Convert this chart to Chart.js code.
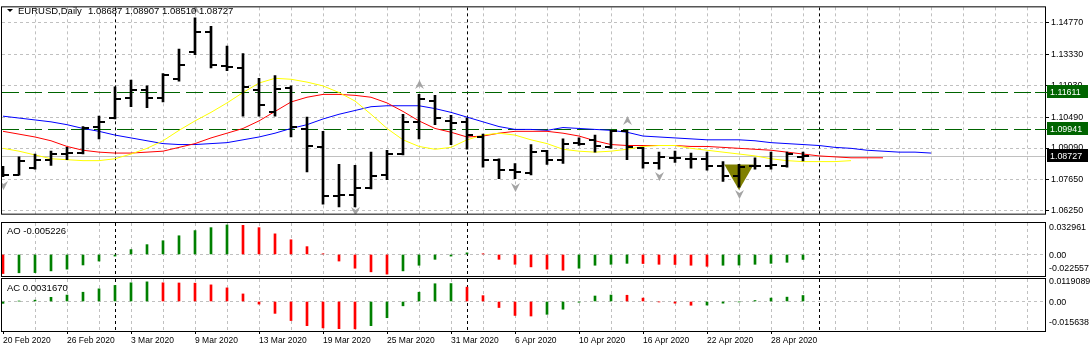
<!DOCTYPE html>
<html>
<head>
<meta charset="utf-8">
<script src="https://cdn.jsdelivr.net/npm/chart.js@4.4.1/dist/chart.umd.min.js"></script>
<style>
  body { margin: 0; background: #fff; width: 1091px; height: 352px; overflow: hidden; position: relative; }
  canvas { position: absolute; left: 0; }
</style>
</head>
<body>
<canvas id="price" width="1091" height="221" style="top:0"></canvas>
<canvas id="ao" width="1091" height="57" style="top:221px"></canvas>
<canvas id="ac" width="1091" height="75" style="top:277px"></canvas>
<script>
// EURUSD daily bars, 20 Feb - 30 Apr 2020
const dates = ['20 Feb 2020','21 Feb 2020','24 Feb 2020','25 Feb 2020','26 Feb 2020','27 Feb 2020','28 Feb 2020',
  '2 Mar 2020','3 Mar 2020','4 Mar 2020','5 Mar 2020','6 Mar 2020','9 Mar 2020','10 Mar 2020','11 Mar 2020','12 Mar 2020',
  '13 Mar 2020','16 Mar 2020','17 Mar 2020','18 Mar 2020','19 Mar 2020','20 Mar 2020','23 Mar 2020','24 Mar 2020',
  '25 Mar 2020','26 Mar 2020','27 Mar 2020','30 Mar 2020','31 Mar 2020',
  '1 Apr 2020','2 Apr 2020','3 Apr 2020','6 Apr 2020','7 Apr 2020','8 Apr 2020','9 Apr 2020','10 Apr 2020','13 Apr 2020',
  '14 Apr 2020','15 Apr 2020','16 Apr 2020','17 Apr 2020','20 Apr 2020','21 Apr 2020','22 Apr 2020','23 Apr 2020',
  '24 Apr 2020','27 Apr 2020','28 Apr 2020','29 Apr 2020','30 Apr 2020'];

const open = [1.08049,1.07878,1.08178,1.08563,1.08820,1.08863,1.10061,1.10447,1.11346,1.11731,
  1.11346,1.12202,1.13443,1.14342,1.12801,1.12716,1.11731,1.10704,1.11817,1.09933,
  1.09120,1.06936,1.06979,1.07279,1.07878,1.08820,1.10275,1.11217,1.10318,1.10275,
  1.09590,1.08563,1.08092,1.07964,1.08948,1.08563,1.09334,1.09462,1.09120,1.09847,
  1.09077,1.08392,1.08649,1.08606,1.08606,1.08263,1.07835,1.08263,1.08263,1.08263,1.08687];
const high = [1.08263,1.08691,1.08820,1.08948,1.09120,1.10061,1.10532,1.11859,1.12159,1.11902,
  1.12459,1.13572,1.14984,1.14599,1.13700,1.13358,1.12245,1.12373,1.11902,1.10489,
  1.09847,1.08349,1.08306,1.08905,1.08991,1.10618,1.11517,1.11474,1.10575,1.10447,
  1.09719,1.08606,1.08392,1.09248,1.08991,1.09505,1.09548,1.09676,1.09890,1.09890,
  1.09120,1.08905,1.08948,1.08863,1.08905,1.08480,1.08349,1.08649,1.08905,1.08905,1.08907];
const low = [1.07792,1.07860,1.08135,1.08306,1.08563,1.08820,1.09505,1.10404,1.10960,1.10918,
  1.11174,1.12116,1.13315,1.12716,1.12587,1.10532,1.10532,1.10532,1.09590,1.08006,
  1.06551,1.06423,1.06423,1.07236,1.07664,1.08777,1.09505,1.10147,1.09248,1.09034,
  1.08221,1.07707,1.07707,1.07878,1.08349,1.08392,1.09205,1.08905,1.09077,1.08563,
  1.08178,1.08135,1.08435,1.08178,1.08092,1.07578,1.07322,1.08135,1.08135,1.08221,1.08510];
const close = [1.07878,1.08520,1.08563,1.08820,1.08863,1.10019,1.10275,1.11303,1.11731,1.11346,
  1.12416,1.12844,1.14342,1.12844,1.12758,1.11859,1.11046,1.11774,1.10061,1.09205,
  1.06936,1.06979,1.07279,1.07835,1.08820,1.10275,1.11303,1.10447,1.10233,1.09676,
  1.08563,1.08092,1.08006,1.08905,1.08563,1.09291,1.09291,1.09205,1.09847,1.09120,
  1.08435,1.08691,1.08649,1.08606,1.08263,1.07835,1.08221,1.08263,1.08306,1.08820,1.08727];

// Alligator lines (shifted forward past the last bar)
const jaw = [1.10532,1.10447,1.10361,1.10275,1.10147,1.09976,1.09847,1.09676,1.09548,1.09419,
  1.09291,1.09248,1.09248,1.09291,1.09334,1.09462,1.09590,1.09762,1.09976,1.10147,
  1.10404,1.10618,1.10789,1.10960,1.11003,1.11003,1.11003,1.10875,1.10704,1.10489,
  1.10275,1.10061,1.09933,1.09933,1.09890,1.10018,1.09976,1.09933,1.09890,1.09805,
  1.09633,1.09590,1.09548,1.09505,1.09462,1.09462,1.09462,1.09419,1.09334,1.09291,
  1.09248,1.09205,1.09120,1.09077,1.08991,1.08948,1.08905,1.08905,1.08863];
const teeth = [1.09847,1.09719,1.09590,1.09419,1.09162,1.08991,1.08905,1.08863,1.08863,1.08905,
  1.08948,1.09120,1.09291,1.09548,1.09762,1.09976,1.10318,1.10746,1.11174,1.11388,
  1.11517,1.11517,1.11474,1.11388,1.11132,1.10746,1.10318,1.09976,1.09805,1.09590,
  1.09633,1.09762,1.09847,1.09847,1.09847,1.09762,1.09633,1.09419,1.09248,1.09205,
  1.09205,1.09205,1.09205,1.09162,1.09162,1.09120,1.09077,1.09034,1.08991,1.08905,
  1.08820,1.08734,1.08691,1.08649,1.08649,1.08649];
const lips = [1.09077,1.08948,1.08777,1.08606,1.08563,1.08520,1.08520,1.08606,1.08820,1.09077,
  1.09419,1.09890,1.10318,1.10704,1.11132,1.11602,1.12031,1.12245,1.12202,1.12073,
  1.11902,1.11602,1.11217,1.10618,1.09976,1.09462,1.09162,1.09034,1.09120,1.09462,
  1.09676,1.09762,1.09676,1.09462,1.09291,1.09034,1.08948,1.08905,1.08948,1.09034,
  1.09162,1.09205,1.09205,1.09077,1.08991,1.08905,1.08820,1.08734,1.08606,1.08520,
  1.08477,1.08477,1.08477,1.08520];

const fractalUp = [{x: 12, y: 1.15370}, {x: 26, y: 1.11945}, {x: 39, y: 1.10318}];
const fractalDown = [{x: 0, y: 1.07407}, {x: 22, y: 1.06208}, {x: 32, y: 1.07322}, {x: 41, y: 1.07792}, {x: 46, y: 1.06979}];
const signal = [{x: 46, y: 1.07964}];

const levels = [1.11611, 1.09941];
const priceTicks = [1.14770, 1.13330, 1.11930, 1.10490, 1.09090, 1.07650, 1.06250];
const priceMin = 1.06122, priceMax = 1.15455;
const separators = [7, 29, 51];   // month starts

// Awesome / Accelerator oscillators
const ao = [-0.0200,-0.0192,-0.0190,-0.0172,-0.0154,-0.0110,-0.0069,-0.0017,0.0051,0.0103,
  0.0144,0.0196,0.0250,0.0281,0.0309,0.0305,0.0281,0.0216,0.0154,0.0082,
  0.0007,-0.0069,-0.0144,-0.0182,-0.0206,-0.0172,-0.0113,-0.0051,-0.0017,0.0017,
  0.0007,-0.0051,-0.0103,-0.0130,-0.0154,-0.0165,-0.0144,-0.0113,-0.0103,-0.0093,
  -0.0095,-0.0103,-0.0105,-0.0113,-0.0124,-0.0113,-0.0111,-0.0103,-0.0093,-0.0082,-0.005226];
const aoBefore = -0.0195;
const aoMin = -0.022557, aoMax = 0.032961;
const ac = [-0.0010,0.0002,0.0007,0.0022,0.0034,0.0049,0.0067,0.0085,0.0099,0.0104,
  0.0099,0.0098,0.0097,0.0088,0.0072,0.0040,-0.0014,-0.0063,-0.0101,-0.0128,
  -0.0140,-0.0144,-0.0145,-0.0128,-0.0086,-0.0023,0.0049,0.0094,0.0095,0.0076,
  0.0031,-0.0032,-0.0074,-0.0077,-0.0068,-0.0041,-0.0004,0.0029,0.0034,0.0033,
  0.0018,-0.0002,-0.0009,-0.0020,-0.0019,-0.0009,-0.0002,0.0005,0.0018,0.0023,0.003167];
const acBefore = -0.0012;
const acMin = -0.015638, acMax = 0.0119089;

const N = dates.length;
const xMin = -0.0625, xMax = 65.125;
const gridIdx = [];
for (let i = 0; i <= 64; i += 2) gridIdx.push(i);
const FONT = 'Liberation Sans';
const GRID = '#C0C0C0';

Chart.defaults.font.family = FONT;

function pts(arr) { return arr.map((v, i) => ({x: i, y: v})); }

// little open/close ticks used as point images
function tickImage(side) {
  const c = document.createElement('canvas');
  c.width = 12; c.height = 2;
  const g = c.getContext('2d');
  g.fillStyle = '#000';
  g.fillRect(side < 0 ? 0 : 6, 0, 6, 2);
  return c;
}
function arrowImage(up) {
  const c = document.createElement('canvas');
  c.width = 9; c.height = 9;
  const g = c.getContext('2d');
  g.fillStyle = '#a4a4a4';
  g.beginPath();
  if (up) { g.moveTo(4.5, 0); g.lineTo(9, 9); g.lineTo(4.5, 6); g.lineTo(0, 9); }
  else { g.moveTo(4.5, 9); g.lineTo(9, 0); g.lineTo(4.5, 3); g.lineTo(0, 0); }
  g.closePath();
  g.fill();
  return c;
}

function frame(before, after) {
  return {
    id: 'frame',
    beforeDatasetsDraw(chart) {
      const {ctx, chartArea: a, scales: {x}} = chart;
      ctx.save();
      ctx.beginPath();
      ctx.rect(a.left, a.top, a.right - a.left, a.bottom - a.top);
      ctx.clip();
      ctx.lineWidth = 1;
      ctx.strokeStyle = '#000';
      ctx.setLineDash([3, 3]);
      separators.forEach(i => {
        const px = Math.round(x.getPixelForValue(i)) + 0.5;
        ctx.beginPath(); ctx.moveTo(px, a.top); ctx.lineTo(px, a.bottom); ctx.stroke();
      });
      if (before) before(chart);
      ctx.restore();
      ctx.imageSmoothingEnabled = false;
    },
    afterDraw(chart) {
      const {ctx, chartArea: a} = chart;
      ctx.save();
      ctx.setLineDash([]);
      ctx.strokeStyle = '#000';
      ctx.lineWidth = 1;
      ctx.strokeRect(a.left - 0.5, a.top - 0.5, a.right - a.left + 1, a.bottom - a.top + 1);
      if (after) after(chart);
      ctx.restore();
    }
  };
}

function xAxis(height, labelled) {
  return {
    type: 'linear', min: xMin, max: xMax, offset: false, position: 'bottom',
    afterBuildTicks: s => { s.ticks = gridIdx.map(v => ({value: v})); },
    afterFit: s => { s.height = height; },
    ticks: labelled ? {
      display: true, autoSkip: false, maxRotation: 0, minRotation: 0, align: 'start', padding: 2,
      color: '#000', font: {size: 8.5},
      callback: v => (v % 4 === 0 && v < N) ? dates[v] : ''
    } : {display: false},
    grid: {
      offset: false, lineWidth: 1,
      color: c => c.tick && c.tick.value === 0 ? 'rgba(0,0,0,0)' : GRID,
      drawTicks: labelled, tickLength: 3,
      tickColor: c => c.tick && c.tick.value % 4 === 0 && c.tick.value < N ? '#000' : 'rgba(0,0,0,0)'
    },
    border: {display: false, dash: [3, 3]}
  };
}

function oscAxis(min, max) {
  return {
    position: 'right', min: min, max: max,
    afterBuildTicks: s => { s.ticks = [{value: 0}]; },
    afterFit: s => { s.width = 46; },
    ticks: {display: false},
    grid: {color: GRID, drawTicks: false},
    border: {display: false, dash: [3, 3]}
  };
}

function histColors(arr, before) {
  return arr.map((v, i) => v > (i === 0 ? before : arr[i - 1]) ? '#008000' : '#FF0000');
}

const common = {
  responsive: false,
  animation: false,
  events: [],
  plugins: {legend: {display: false}, tooltip: {enabled: false}}
};

// ---- price pane ----
const lastClose = close[N - 1];
new Chart(document.getElementById('price'), {
  type: 'bar',
  data: {
    datasets: [
      {type: 'bar', data: dates.map((d, i) => ({x: i, y: [low[i], high[i]]})),
        backgroundColor: '#000', barThickness: 2, order: 0},
      {type: 'scatter', data: pts(open), pointStyle: tickImage(-1), pointRadius: 3, order: 0},
      {type: 'scatter', data: pts(close), pointStyle: tickImage(1), pointRadius: 3, order: 0},
      {type: 'line', data: pts(jaw), borderColor: '#0000FF', borderWidth: 1, pointRadius: 0, tension: 0, order: 3},
      {type: 'line', data: pts(teeth), borderColor: '#FF0000', borderWidth: 1, pointRadius: 0, tension: 0, order: 2},
      {type: 'line', data: pts(lips), borderColor: '#FFFF00', borderWidth: 1, pointRadius: 0, tension: 0, order: 1},
      {type: 'scatter', data: fractalUp, pointStyle: arrowImage(true), pointRadius: 3, order: 4},
      {type: 'scatter', data: fractalDown, pointStyle: arrowImage(false), pointRadius: 3, order: 4},
      {type: 'scatter', data: signal, pointStyle: 'triangle', rotation: 180, pointRadius: 17,
        backgroundColor: '#808000', borderWidth: 0, order: 9}
    ]
  },
  options: {
    ...common,
    layout: {autoPadding: false, padding: {left: 2, top: 2, right: 0, bottom: 1}},
    scales: {
      x: xAxis(0, false),
      y: {
        position: 'right', min: priceMin, max: priceMax,
        afterBuildTicks: s => { s.ticks = priceTicks.map(v => ({value: v})); },
        afterFit: s => { s.width = 46; },
        ticks: {color: '#000', font: {size: 8.9}, padding: 2, callback: v => v.toFixed(5)},
        grid: {color: GRID, tickColor: '#000', tickLength: 4},
        border: {display: false, dash: [3, 3]}
      }
    }
  },
  plugins: [frame(
    chart => {
      const {ctx, chartArea: a, scales: {y}} = chart;
      ctx.setLineDash([]);
      ctx.strokeStyle = GRID;
      let py = Math.round(y.getPixelForValue(lastClose)) + 0.5;
      ctx.beginPath(); ctx.moveTo(a.left, py); ctx.lineTo(a.right, py); ctx.stroke();
      ctx.setLineDash([17, 6]);
      ctx.strokeStyle = '#006400';
      levels.forEach(v => {
        py = Math.round(y.getPixelForValue(v)) + 0.5;
        ctx.beginPath(); ctx.moveTo(a.left, py); ctx.lineTo(a.right, py); ctx.stroke();
      });
    },
    chart => {
      const {ctx, scales: {y}} = chart;
      // header
      ctx.fillStyle = '#000';
      ctx.beginPath(); ctx.moveTo(7, 9); ctx.lineTo(13, 9); ctx.lineTo(10, 12); ctx.closePath(); ctx.fill();
      ctx.font = '9.5px "' + FONT + '"';
      ctx.textBaseline = 'middle';
      ctx.textAlign = 'left';
      ctx.fillText('EURUSD,Daily', 18, 11);
      ctx.fillText([open[N - 1], high[N - 1], low[N - 1], close[N - 1]].map(v => v.toFixed(5)).join(' '), 88, 11);
      // price tags on the right scale
      ctx.font = '8.9px "' + FONT + '"';
      const tag = (v, bg, lead) => {
        const py = Math.round(y.getPixelForValue(v));
        if (lead) {
          ctx.strokeStyle = bg; ctx.setLineDash([]);
          ctx.beginPath(); ctx.moveTo(1035, py + 0.5); ctx.lineTo(1047, py + 0.5); ctx.stroke();
        }
        ctx.fillStyle = bg;
        ctx.fillRect(1047, py - 7, 41, 13);
        ctx.fillStyle = '#fff';
        ctx.fillText(v.toFixed(5), 1050, py + 0.5);
      };
      levels.forEach(v => tag(v, '#006400', true));
      tag(lastClose, '#000', false);
    }
  )]
});

// ---- oscillator panes ----
function oscChart(id, values, before, min, max, padBottom, xHeight, title, labelPos) {
  new Chart(document.getElementById(id), {
    type: 'bar',
    data: {
      datasets: [{data: pts(values), backgroundColor: histColors(values, before), barThickness: 2}]
    },
    options: {
      ...common,
      layout: {autoPadding: false, padding: {left: 2, top: 2, right: 0, bottom: padBottom}},
      scales: {x: xAxis(xHeight, xHeight > 0), y: oscAxis(min, max)}
    },
    plugins: [frame(null, chart => {
      const {ctx, chartArea: a, scales: {y}} = chart;
      ctx.fillStyle = '#000';
      ctx.textBaseline = 'middle';
      ctx.textAlign = 'left';
      ctx.font = '8.9px "' + FONT + '"';
      ctx.fillText(String(max), 1049, a.top + labelPos[0]);
      ctx.fillText('0.00', 1049, y.getPixelForValue(0) + labelPos[1]);
      ctx.fillText(String(min), 1049, a.bottom - labelPos[2]);
      ctx.font = '9.5px "' + FONT + '"';
      ctx.fillText(title, 7, labelPos[3]);
    })]
  });
}

oscChart('ao', ao, aoBefore, aoMin, aoMax, 2, 0, 'AO ' + ao[N - 1].toFixed(6), [5, 1, 7, 10]);
oscChart('ac', ac, acBefore, acMin, acMax, 0, 21, 'AC ' + ac[N - 1].toFixed(7), [3, 1.5, 8, 11]);
</script>
</body>
</html>
